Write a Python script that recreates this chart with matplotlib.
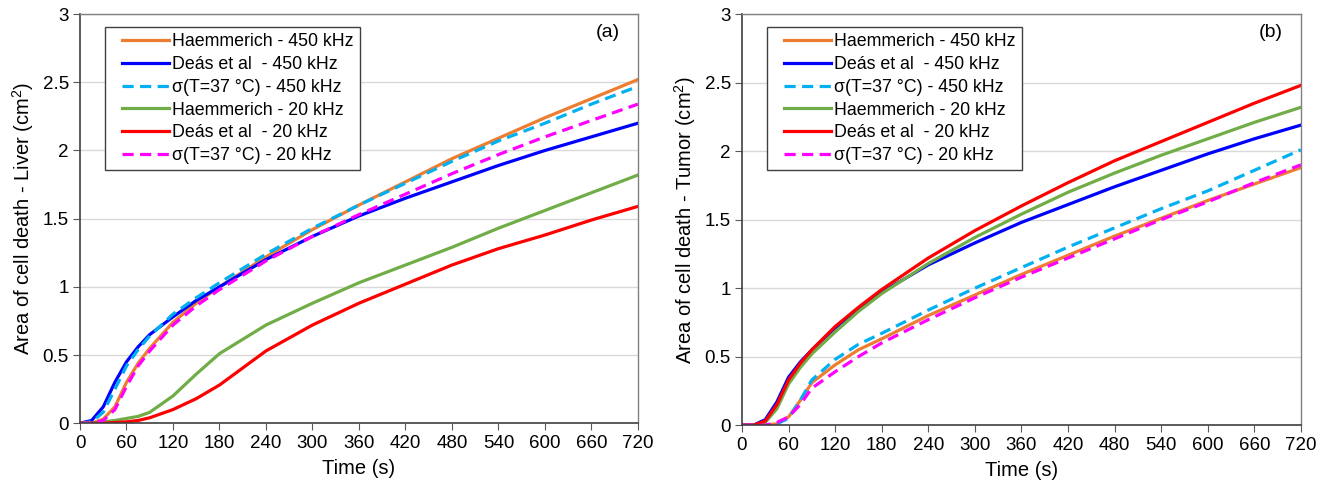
import matplotlib
matplotlib.use('Agg')
import matplotlib.pyplot as plt
from matplotlib import rcParams
from matplotlib.lines import Line2D
from matplotlib.legend_handler import HandlerLine2D

rcParams['font.family'] = ['Liberation Sans', 'DejaVu Sans']
rcParams['font.size'] = 13
rcParams['mathtext.fontset'] = 'custom'
rcParams['mathtext.rm'] = 'Liberation Sans'
rcParams['mathtext.it'] = 'Liberation Sans'

# time points (s)
t = [0, 15, 30, 45, 60, 75, 90, 120, 150, 180, 240, 300, 360, 420, 480, 540, 600, 660, 720]

# (a) Liver
liver_haem_450 = [0, 0, 0.03, 0.12, 0.30, 0.44, 0.55, 0.74, 0.88, 1.00, 1.22, 1.42, 1.60, 1.77, 1.94, 2.09, 2.24, 2.38, 2.52]
liver_deas_450 = [0, 0.02, 0.12, 0.30, 0.45, 0.56, 0.65, 0.78, 0.90, 1.00, 1.20, 1.37, 1.52, 1.65, 1.77, 1.89, 2.00, 2.10, 2.20]
liver_sig_450 = [0, 0.01, 0.08, 0.25, 0.42, 0.54, 0.64, 0.80, 0.92, 1.03, 1.24, 1.43, 1.60, 1.76, 1.92, 2.07, 2.20, 2.34, 2.47]
liver_haem_20 = [0, 0, 0.01, 0.02, 0.035, 0.05, 0.08, 0.20, 0.36, 0.51, 0.72, 0.88, 1.03, 1.16, 1.29, 1.43, 1.56, 1.69, 1.82]
liver_deas_20 = [0, 0, 0, 0.005, 0.01, 0.02, 0.04, 0.10, 0.18, 0.28, 0.53, 0.72, 0.88, 1.02, 1.16, 1.28, 1.38, 1.49, 1.59]
liver_sig_20 = [0, 0, 0.02, 0.10, 0.27, 0.42, 0.53, 0.72, 0.86, 0.98, 1.19, 1.37, 1.53, 1.68, 1.83, 1.97, 2.10, 2.22, 2.34]

# (b) Tumor
tumor_haem_450 = [0, 0, 0, 0.01, 0.06, 0.18, 0.31, 0.44, 0.55, 0.63, 0.80, 0.95, 1.10, 1.24, 1.38, 1.51, 1.64, 1.76, 1.88]
tumor_deas_450 = [0, 0, 0.04, 0.17, 0.35, 0.46, 0.55, 0.71, 0.85, 0.97, 1.17, 1.33, 1.48, 1.61, 1.74, 1.86, 1.98, 2.09, 2.19]
tumor_sig_450 = [0, 0, 0, 0.01, 0.05, 0.18, 0.33, 0.48, 0.59, 0.67, 0.84, 1.00, 1.15, 1.30, 1.44, 1.58, 1.71, 1.86, 2.01]
tumor_haem_20 = [0, 0, 0.02, 0.12, 0.30, 0.42, 0.52, 0.68, 0.83, 0.96, 1.18, 1.37, 1.54, 1.70, 1.84, 1.97, 2.09, 2.21, 2.32]
tumor_deas_20 = [0, 0, 0.03, 0.15, 0.33, 0.45, 0.55, 0.72, 0.86, 0.99, 1.22, 1.42, 1.60, 1.77, 1.93, 2.07, 2.21, 2.35, 2.48]
tumor_sig_20 = [0, 0, 0, 0.02, 0.06, 0.15, 0.27, 0.39, 0.50, 0.60, 0.77, 0.93, 1.08, 1.22, 1.36, 1.50, 1.63, 1.77, 1.90]

labels = ['Haemmerich - 450 kHz', 'Deás et al  - 450 kHz', 'σ(T=37 °C) - 450 kHz',
          'Haemmerich - 20 kHz', 'Deás et al  - 20 kHz', 'σ(T=37 °C) - 20 kHz']
colors = ['#ED7D31', '#0000FF', '#00B0F0', '#70AD47', '#FF0000', '#FF00FF']
styles = ['-', '-', '--', '-', '-', '--']

panels = [
    ([liver_haem_450, liver_deas_450, liver_sig_450, liver_haem_20, liver_deas_20, liver_sig_20],
     'Area of cell death - Liver (cm$^2$)', '(a)', [0.0602, 0.131, 0.4198, 0.840]),
    ([tumor_haem_450, tumor_deas_450, tumor_sig_450, tumor_haem_20, tumor_deas_20, tumor_sig_20],
     'Area of cell death - Tumor (cm$^2$)', '(b)', [0.5583, 0.127, 0.4206, 0.844]),
]

fig = plt.figure(figsize=(13.29, 4.87), dpi=100)
for series, ylabel, tag, pos in panels:
    ax = fig.add_axes(pos)
    for y, lab, c, ls in zip(series, labels, colors, styles):
        line, = ax.plot(t, y, color=c, ls=ls, lw=2.3, label=lab)
        if ls == '--':
            line.set_dashes((3.5, 2))
    ax.set_xlim(0, 720)
    ax.set_ylim(0, 3)
    ax.set_xticks(range(0, 721, 60))
    ax.set_yticks([0, 0.5, 1, 1.5, 2, 2.5, 3])
    ax.set_yticklabels(['0', '0.5', '1', '1.5', '2', '2.5', '3'])
    ax.yaxis.grid(True, color='#D9D9D9', lw=1)
    ax.set_axisbelow(True)
    ax.tick_params(axis='both', direction='out', length=5, color='#595959', labelsize=13.5)
    ax.tick_params(axis='y', pad=3)
    for s in ['left', 'bottom']:
        ax.spines[s].set_color('#404040')
        ax.spines[s].set_linewidth(1.2)
    for s in ['top', 'right']:
        ax.spines[s].set_color('#808080')
        ax.spines[s].set_linewidth(1.0)
    ax.set_xlabel('Time (s)', fontsize=14.5, labelpad=5)
    ax.set_ylabel(ylabel, fontsize=14.5, labelpad=5)
    ax.text(0.968, 0.975, tag, transform=ax.transAxes, ha='right', va='top', fontsize=14)
    leg = ax.legend(loc='upper left', bbox_to_anchor=(0.044, 0.968), borderaxespad=0,
                    fontsize=12.8, handlelength=3.25, handletextpad=0.2, labelspacing=0.32,
                    borderpad=0.35, fancybox=False, framealpha=1,
                    handler_map={Line2D: HandlerLine2D(xpad=0.65)})
    leg.get_frame().set_edgecolor('#404040')
    leg.get_frame().set_linewidth(1.0)

fig.savefig('out.png', dpi=100)
